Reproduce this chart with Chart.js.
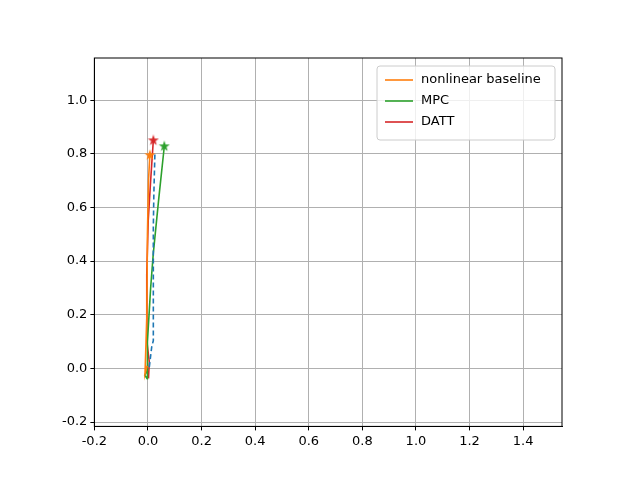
<!DOCTYPE html>
<html><head>
<script src="https://cdn.jsdelivr.net/npm/chart.js@4/dist/chart.umd.min.js"></script>
<style>body{margin:0;background:#fff}#wrap{width:640px;height:480px}</style>
</head><body><div id="wrap"><canvas id="c"></canvas></div>
<script>
// trajectories (x, y)
const refX = [0.005, 0.014, 0.02, 0.02, 0.022, 0.026];
const refY = [0.005, 0.08, 0.104, 0.527, 0.65, 0.806];
const baseX = [-0.003, -0.011, -0.004, -0.002, 0.002, 0.007];
const baseY = [0.01, -0.02, 0.2, 0.5, 0.7, 0.795];
const mpcX = [0.0, -0.012, -0.003, -0.002, 0.01, 0.02, 0.04, 0.061];
const mpcY = [0.0, -0.025, -0.038, 0.1, 0.3, 0.43, 0.63, 0.828];
const dattX = [0.002, 0.005, -0.004, -0.005, -0.004, 0.001, 0.01, 0.02];
const dattY = [-0.037, 0.024, 0.1, 0.18, 0.35, 0.552, 0.7, 0.85];
const xTicks = [-0.2, 0, 0.2, 0.4, 0.6, 0.8, 1.0, 1.2, 1.4];
const yTicks = [-0.2, 0, 0.2, 0.4, 0.6, 0.8, 1.0];

function pts(xs, ys) { return xs.map((x, i) => ({x: x, y: ys[i]})); }
function star(color) {
  const s = document.createElement("canvas"); s.width = s.height = 12;
  const g = s.getContext("2d"); g.fillStyle = color; g.beginPath();
  for (let i = 0; i < 10; i++) {
    const r = i % 2 ? 2.3 : 5.8, a = -Math.PI / 2 + i * Math.PI / 5;
    g.lineTo(6 + r * Math.cos(a), 6 + r * Math.sin(a));
  }
  g.closePath(); g.fill(); return s;
}
function ds(label, xs, ys, color, dash) {
  const n = xs.length;
  return {
    label: label, data: pts(xs, ys), showLine: true, borderColor: color,
    backgroundColor: color, borderWidth: 1.6, borderDash: dash || [],
    pointRadius: xs.map((_, i) => (label && i === n - 1) ? 6 : 0),
    pointStyle: xs.map((_, i) => i === n - 1 ? star(color) : "circle")
  };
}

const legendBox = {
  id: "legendBox",
  afterDraw(chart) {
    const ctx = chart.ctx, a = chart.chartArea;
    // frame on all four sides
    ctx.save();
    ctx.strokeStyle = "#000"; ctx.lineWidth = 1;
    ctx.strokeRect(a.left, a.top, a.right - a.left, a.bottom - a.top);
    const items = chart.data.datasets.filter(d => d.label);
    const w = 178, h = 74, x0 = a.right - w - 7, y0 = a.top + 8;
    ctx.fillStyle = "rgba(255,255,255,0.8)"; ctx.strokeStyle = "#ccc";
    ctx.beginPath(); ctx.roundRect(x0, y0, w, h, 3); ctx.fill(); ctx.stroke();
    ctx.font = "13px 'DejaVu Sans'"; ctx.textBaseline = "middle";
    items.forEach((d, i) => {
      const y = y0 + 14 + i * 21;
      ctx.strokeStyle = d.borderColor; ctx.lineWidth = 1.6;
      ctx.beginPath(); ctx.moveTo(x0 + 8, y); ctx.lineTo(x0 + 36, y); ctx.stroke();
      ctx.fillStyle = "#000"; ctx.fillText(d.label, x0 + 44, y);
    });
    ctx.restore();
  }
};

const tickOpts = () => ({
  color: "#000", font: {family: "DejaVu Sans", size: 13},
  autoSkip: false, maxRotation: 0,
  callback: v => v.toFixed(1)
});

new Chart(document.getElementById("c"), {
  type: "scatter",
  data: {datasets: [
    ds("", refX, refY, "#1f77b4", [5, 3]),
    ds("nonlinear baseline", baseX, baseY, "#ff7f0e"),
    ds("MPC", mpcX, mpcY, "#2ca02c"),
    ds("DATT", dattX, dattY, "#d62728")
  ]},
  options: {
    responsive: true, maintainAspectRatio: false, animation: false,
    layout: {padding: {left: 59, right: 78, top: 58, bottom: 28}},
    plugins: {legend: {display: false}, tooltip: {enabled: false}},
    scales: {
      x: {type: "linear", min: -0.2, max: 1.545,
          afterBuildTicks: s => { s.ticks = xTicks.map(v => ({value: v})); },
          ticks: tickOpts(),
          grid: {color: "#b0b0b0", tickColor: "#000", tickLength: 4},
          border: {color: "#000"}},
      y: {type: "linear", min: -0.216, max: 1.157,
          afterBuildTicks: s => { s.ticks = yTicks.map(v => ({value: v})); },
          ticks: tickOpts(),
          grid: {color: "#b0b0b0", tickColor: "#000", tickLength: 4},
          border: {color: "#000"}}
    }
  },
  plugins: [legendBox]
});
</script></body></html>
